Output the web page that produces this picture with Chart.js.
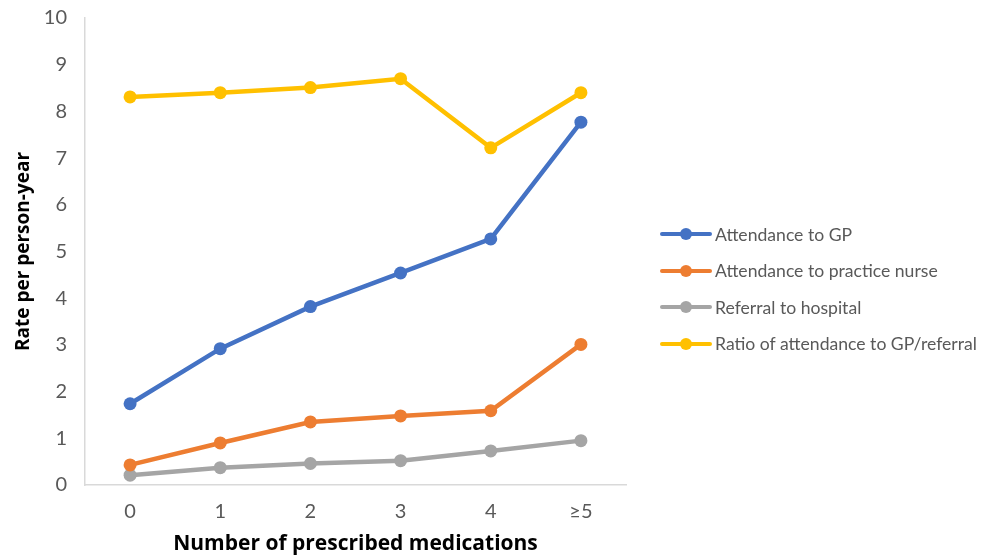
<!DOCTYPE html>
<html>
<head>
<meta charset="utf-8">
<script src="https://cdn.jsdelivr.net/npm/chart.js@4/dist/chart.umd.min.js"></script>
<style>
html,body{margin:0;padding:0;background:#fff;}
#wrap{position:relative;width:988px;height:556px;}
#legend{position:absolute;left:660px;top:216px;font-family:Lato,"Open Sans",sans-serif;font-size:17.6px;color:#595959;}
.item{display:flex;align-items:center;height:36.5px;}
.mk{position:relative;width:52px;height:12px;margin-right:3px;}
.mk .ln{position:absolute;left:0;right:0;top:4px;height:4px;border-radius:2px;}
.mk .dt{position:absolute;left:20px;top:0;width:12px;height:12px;border-radius:50%;}
</style>
</head>
<body>
<div id="wrap">
<canvas id="c" width="988" height="556"></canvas>
<div id="legend"></div>
</div>
<script>
const categories = ["0","1","2","3","4","≥5"];
const attendanceGP = [1.74, 2.92, 3.82, 4.54, 5.27, 7.77];
const attendanceNurse = [0.43, 0.90, 1.35, 1.48, 1.59, 3.01];
const referralHospital = [0.21, 0.37, 0.46, 0.52, 0.73, 0.95];
const ratioGPReferral = [8.31, 8.40, 8.51, 8.70, 7.22, 8.40];
const seriesNames = ["Attendance to GP","Attendance to practice nurse","Referral to hospital","Ratio of attendance to GP/referral"];
const seriesColors = ["#4472C4","#ED7D31","#A5A5A5","#FFC000"];
const yTicks = [0,1,2,3,4,5,6,7,8,9,10];

const seriesData = [attendanceGP, attendanceNurse, referralHospital, ratioGPReferral];
const datasets = seriesData.map((d,i)=>({
  label: seriesNames[i],
  data: d,
  borderColor: seriesColors[i],
  backgroundColor: seriesColors[i],
  borderWidth: 4.5,
  pointRadius: 6.5,
  pointHoverRadius: 6.5,
  pointBorderWidth: 0,
  tension: 0
}));

const FONT = 'Lato, "Open Sans", sans-serif';
const TFONT = '"Open Sans", Lato, sans-serif';
new Chart(document.getElementById('c'), {
  type: 'line',
  data: { labels: categories, datasets: datasets },
  options: {
    responsive: false,
    animation: false,
    devicePixelRatio: 1,
    layout: { padding: { top: 18, right: 362, left: 8, bottom: 0 } },
    plugins: { legend: { display: false }, tooltip: { enabled: false } },
    scales: {
      x: {
        offset: true,
        grid: { display: false, drawTicks: false },
        border: { color: '#d9d9d9', width: 1.5 },
        ticks: { color: '#595959', font: { family: FONT, size: 20 }, padding: 15 },
        title: { display: true, text: 'Number of prescribed medications', color: '#000', font: { family: TFONT, size: 21, weight: 'bold' }, padding: { top: 10, bottom: -1 } },
        afterFit: s => { s.height = 71; s.paddingLeft = 0; s.paddingRight = 0; }
      },
      y: {
        min: 0, max: 10,
        afterBuildTicks: s => { s.ticks = yTicks.map(v => ({ value: v })); },
        grid: { display: false, drawTicks: false },
        border: { color: '#d9d9d9', width: 1.5 },
        ticks: { color: '#595959', font: { family: FONT, size: 20 }, padding: 18 },
        title: { display: true, text: 'Rate per person-year', color: '#000', font: { family: TFONT, size: 19, weight: 'bold' }, padding: { bottom: 2 } },
        afterFit: s => { s.width = 77; s.paddingTop = 0; s.paddingBottom = 0; }
      }
    }
  }
});

const lg = document.getElementById('legend');
seriesNames.forEach((n,i)=>{
  const it = document.createElement('div'); it.className='item';
  it.innerHTML = '<div class="mk"><div class="ln" style="background:'+seriesColors[i]+'"></div><div class="dt" style="background:'+seriesColors[i]+'"></div></div><span>'+n+'</span>';
  lg.appendChild(it);
});
</script>
</body>
</html>
